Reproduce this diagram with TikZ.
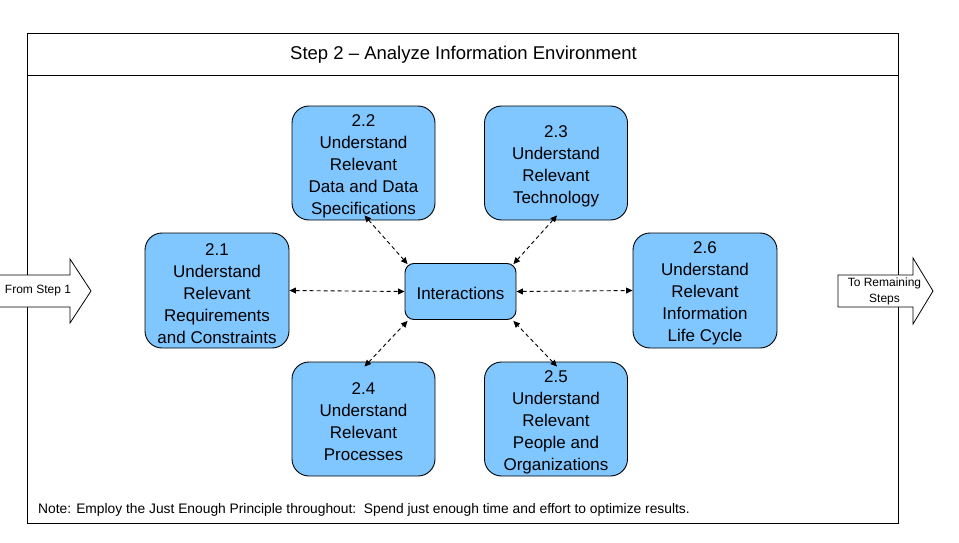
\documentclass[tikz,border=0pt]{standalone}
\usepackage{fontspec}
\setmainfont{Liberation Sans}
\usetikzlibrary{arrows.meta}
\definecolor{boxblue}{RGB}{128,198,255}
\begin{document}
\begin{tikzpicture}[x=1pt,y=-1pt,
  boxtext/.style={align=center, inner sep=0pt, font=\fontsize{17}{22}\selectfont},
  stepbox/.style={draw=black, line width=0.9pt, fill=boxblue, rounded corners=17pt,
    minimum width=143pt, minimum height=114pt, inner sep=0pt,
    label={[boxtext, yshift=-3pt]center:#1}},
  interbox/.style={draw=black, line width=0.9pt, fill=boxblue, rounded corners=9pt,
    minimum width=111pt, minimum height=56pt, inner sep=0pt,
    label={[boxtext, yshift=-1.5pt]center:#1}},
  link/.style={dash pattern=on 4pt off 3pt, line width=0.9pt,
    {Triangle[length=6.5pt,width=6pt]}-{Triangle[length=6.5pt,width=6pt]}},
  blockarrow/.style={draw=black, line width=0.8pt, fill=white},
  smalltext/.style={font=\fontsize{12}{16}\selectfont, align=center, inner sep=0pt}
]
\useasboundingbox (0,0) rectangle (959,543);
% frame
\draw[line width=0.9pt] (27,33) rectangle (898,523);
\draw[line width=0.9pt] (27,75) -- (898,75);
\node[font=\fontsize{18.5}{22}\selectfont] (title) at (463.5,55) {Step 2 -- Analyze Information Environment};

% boxes
\node[stepbox={2.2\\Understand\\Relevant\\Data and Data\\Specifications}] (b22) at (363.5,163) {};
\node[stepbox={2.3\\Understand\\Relevant\\Technology}] (b23) at (556,163) {};
\node[stepbox={2.1\\Understand\\Relevant\\Requirements\\and Constraints}, minimum width=144pt, minimum height=115pt] (b21) at (217,290.5) {};
\node[stepbox={2.6\\Understand\\Relevant\\Information\\Life Cycle}, minimum width=144pt, minimum height=115pt] (b26) at (705,290.5) {};
\node[stepbox={2.4\\Understand\\Relevant\\Processes}] (b24) at (363.5,419) {};
\node[stepbox={2.5\\Understand\\Relevant\\People and\\Organizations}] (b25) at (556,419) {};
\node[interbox={Interactions}] (inter) at (460.5,291.5) {};

% links
\draw[link] (b21.east) -- (inter.west);
\draw[link] (inter.east) -- (b26.west);
\draw[link] ([shift={(1pt,5pt)}]b22.south) -- ([shift={(3pt,-1pt)}]inter.north west);
\draw[link] ([shift={(1pt,5pt)}]b23.south) -- ([shift={(-3pt,-1pt)}]inter.north east);
\draw[link] ([shift={(1pt,-5pt)}]b24.north) -- ([shift={(3pt,-1pt)}]inter.south west);
\draw[link] ([shift={(1pt,-5pt)}]b25.north) -- ([shift={(-3pt,-1pt)}]inter.south east);

% block arrows
\draw[blockarrow] (-2,275) -- (70,275) -- (70,259) -- (91,291) -- (70,323) -- (70,307) -- (-2,307) -- cycle;
\node[smalltext] (from) at (38,291) {From Step 1};
\draw[blockarrow] (838,275) -- (913,275) -- (913,258) -- (933,291) -- (913,324) -- (913,307) -- (838,307) -- cycle;
\node[smalltext] (to) at (884.5,291.5) {To Remaining\\Steps};

% note
\node[anchor=west, font=\fontsize{13.8}{15}\selectfont, inner sep=0pt] (note) at (38,510) {Note: Employ the Just Enough Principle throughout:\ \ Spend just enough time and effort to optimize results.};
\end{tikzpicture}
\end{document}
